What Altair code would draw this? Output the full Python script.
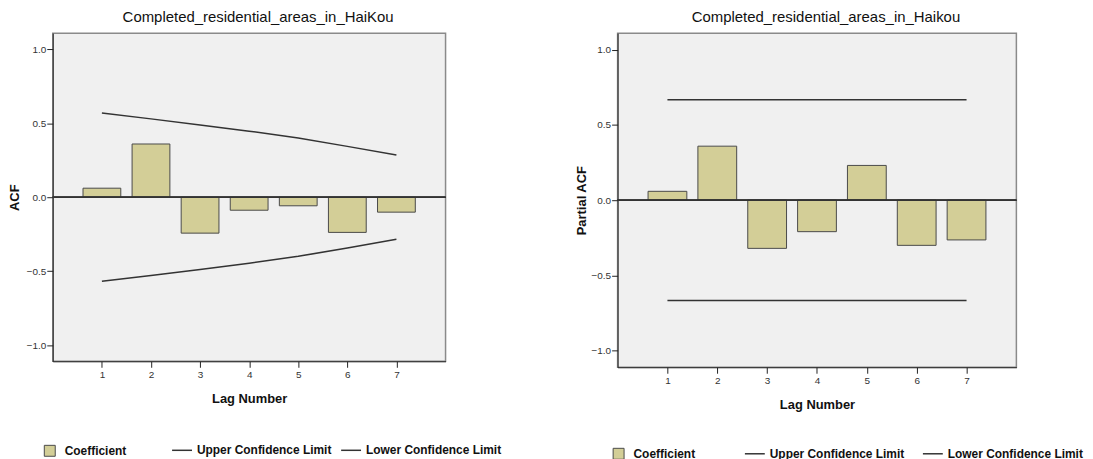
import altair as alt
import pandas as pd

# ---- data ----
lags = [1, 2, 3, 4, 5, 6, 7]

acf_values = [0.061, 0.360, -0.243, -0.088, -0.058, -0.238, -0.101]
acf_upper = [0.569, 0.530, 0.489, 0.447, 0.400, 0.344, 0.286]
acf_lower = [-0.568, -0.530, -0.489, -0.447, -0.400, -0.344, -0.285]

pacf_values = [0.059, 0.359, -0.320, -0.209, 0.231, -0.300, -0.264]
pacf_upper = [0.667, 0.667, 0.667, 0.667, 0.667, 0.667, 0.667]
pacf_lower = [-0.666, -0.666, -0.666, -0.666, -0.666, -0.666, -0.666]

y_ticks = [-1.0, -0.5, 0.0, 0.5, 1.0]
series_names = ["Coefficient", "Upper Confidence Limit", "Lower Confidence Limit"]

FONT = "Liberation Sans"
BAR_FILL = "#D3CE97"
LINE_COL = "#333333"


def panel(values, upper, lower, title, ytitle, w, h, bar_size,
          fill_lx, fill_ly, stroke_lx, stroke_ly, col_pad, ytitle_x):
    bars_df = pd.DataFrame({"lag": lags, "value": values,
                            "series": [series_names[0]] * len(lags)})
    lim_df = pd.DataFrame({
        "lag": lags + lags,
        "value": upper + lower,
        "series": [series_names[1]] * len(lags) + [series_names[2]] * len(lags),
    })
    xs = alt.Scale(domain=[0.1, 7.9], nice=False, zero=False)
    ys = alt.Scale(domain=[-1.11, 1.11], nice=False, zero=False)
    xaxis = alt.Axis(values=lags, format="d", title="Lag Number", tickSize=6,
                     labelPadding=2, titleY=37, titleBaseline="middle",
                     grid=False)
    yaxis = alt.Axis(values=y_ticks, format=".1f", title=ytitle, tickSize=6,
                     labelPadding=1, titleX=ytitle_x, titleY=h / 2,
                     titleBaseline="middle", titleAlign="center", titleAngle=270,
                     grid=False)

    bars = alt.Chart(bars_df).mark_bar(
        size=bar_size, stroke="#4a4a4a", strokeWidth=1
    ).encode(
        x=alt.X("lag:Q", scale=xs, axis=xaxis),
        y=alt.Y("value:Q", scale=ys, axis=yaxis),
        y2=alt.datum(0),
        fill=alt.Fill("series:N",
                      scale=alt.Scale(domain=[series_names[0]], range=[BAR_FILL]),
                      legend=alt.Legend(orient="none", legendX=fill_lx, legendY=fill_ly,
                                        title=None, symbolType="square", symbolSize=121,
                                        symbolStrokeColor="#4a4a4a", symbolStrokeWidth=1,
                                        labelOffset=9, padding=0,
                                        labelFont=FONT, labelFontSize=12,
                                        labelFontWeight="bold", labelColor="#111111")),
    )
    zero = alt.Chart(bars_df).mark_rule(color="#333333", strokeWidth=1).encode(
        y=alt.datum(0)
    )
    lines = alt.Chart(lim_df).mark_line(strokeWidth=1.5).encode(
        x=alt.X("lag:Q", scale=xs),
        y=alt.Y("value:Q", scale=ys),
        stroke=alt.Stroke("series:N",
                          scale=alt.Scale(domain=series_names[1:], range=[LINE_COL, LINE_COL]),
                          legend=alt.Legend(orient="none", legendX=stroke_lx, legendY=stroke_ly,
                                            direction="horizontal", title=None,
                                            symbolType="stroke", symbolSize=400,
                                            symbolStrokeWidth=1.5, labelOffset=4,
                                            columnPadding=col_pad, padding=0,
                                            labelFont=FONT, labelFontSize=12,
                                            labelFontWeight="bold", labelColor="#111111")),
    )
    return alt.layer(bars, zero, lines).properties(
        width=w, height=h,
        title=alt.TitleParams(title, fontSize=15, font=FONT, fontWeight="normal",
                              color="#111111", offset=8, dx=9),
    ).resolve_scale(fill="independent", stroke="independent")


left = panel(acf_values, acf_upper, acf_lower,
             "Completed_residential_areas_in_HaiKou", "ACF",
             395, 330, 38, -9, 414, 119, 408.5, 6, -38)
right = panel(pacf_values, pacf_upper, pacf_lower,
              "Completed_residential_areas_in_Haikou", "Partial ACF",
              401, 336, 39, -5, 417, 127, 412, 15, -36)

chart = alt.hconcat(left, right, spacing=173, bounds="flush").resolve_scale(
    x="independent", y="independent", fill="independent", stroke="independent"
).resolve_legend(fill="independent", stroke="independent").properties(
    padding=0, background="white"
).configure_view(
    fill="#F0F0F0", stroke="#8a8a8a", strokeWidth=1.5
).configure_axis(
    labelFont=FONT, labelFontSize=10, labelColor="#333333",
    titleFont=FONT, titleFontSize=13, titleFontWeight="bold", titleColor="#111111",
    tickColor="#222222", domainColor="#222222", domainWidth=1, tickWidth=1,
)

chart.save("out.html", embed_options={"renderer": "svg", "actions": False})
